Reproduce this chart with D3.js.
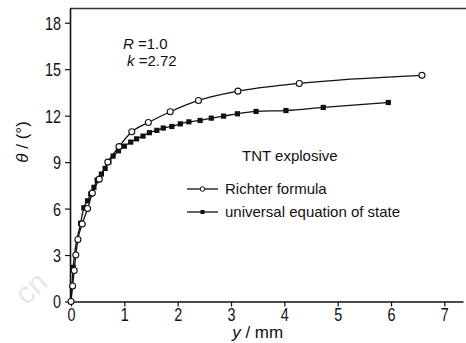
<!DOCTYPE html>
<html>
<head>
<meta charset="utf-8">
<script src="https://cdn.jsdelivr.net/npm/d3@7"></script>
<style>
  body { margin: 0; background: #fff; }
  svg { display: block; }
</style>
</head>
<body>
<svg id="chart" width="466" height="343"></svg>
<script>
// y / mm  vs  theta / deg
const richterY = [0, 0.03, 0.06, 0.09, 0.13, 0.21, 0.31, 0.40, 0.53, 0.69, 0.90, 1.14, 1.45, 1.86, 2.39, 3.13, 4.28, 6.58];
const richterTheta = [0, 1.0, 2.0, 3.0, 4.0, 5.0, 6.0, 7.0, 7.9, 9.0, 10.0, 10.96, 11.56, 12.25, 12.98, 13.58, 14.08, 14.6];

const eosY = [0, 0.04, 0.18, 0.24, 0.31, 0.37, 0.43, 0.49, 0.57, 0.64, 0.71, 0.79, 0.89, 1.0, 1.12, 1.23, 1.35, 1.47, 1.61, 1.73, 1.89, 2.05, 2.21, 2.42, 2.63, 2.86, 3.12, 3.47, 4.03, 4.73, 5.95];
const eosTheta = [0, 2.2, 5.05, 6.05, 6.5, 6.94, 7.37, 7.84, 8.23, 8.59, 9.02, 9.39, 9.73, 10.03, 10.29, 10.5, 10.68, 10.9, 11.05, 11.2, 11.3, 11.47, 11.6, 11.69, 11.84, 11.97, 12.12, 12.27, 12.33, 12.53, 12.85];

const xTicks = [0, 1, 2, 3, 4, 5, 6, 7];
const yTicks = [0, 3, 6, 9, 12, 15, 18];
const legendLabels = ["Richter formula", "universal equation of state"];

const font = '"Liberation Sans", Arial, sans-serif';

const svg = d3.select("#chart");

const xScale = d3.scaleLinear().domain([0, 7.35]).range([71, 463]);
const yScale = d3.scaleLinear().domain([0, 18.95]).range([301.5, 8]);

const richter = richterY.map((v, i) => ({ x: v, t: richterTheta[i] }));
const eos = eosY.map((v, i) => ({ x: v, t: eosTheta[i] }));

// faint watermark
svg.append("text")
  .attr("transform", "translate(26,306) rotate(-42)")
  .attr("font-family", font)
  .attr("font-size", 30)
  .attr("fill", "#e8e8e8")
  .text("cn");

// top frame line
svg.append("line")
  .attr("x1", xScale(0) - 1).attr("x2", 466)
  .attr("y1", yScale(18.95) + 0.5).attr("y2", yScale(18.95) + 0.5)
  .attr("stroke", "#333").attr("stroke-width", 1.4);

const xAxis = svg.append("g")
  .attr("transform", `translate(0, ${yScale(0)})`)
  .call(d3.axisBottom(xScale).tickValues(xTicks).tickSize(5).tickSizeOuter(0).tickPadding(2));

const yAxis = svg.append("g")
  .attr("transform", `translate(${xScale(0) - 1}, 0)`)
  .call(d3.axisLeft(yScale).tickValues(yTicks).tickSize(5).tickSizeOuter(0).tickPadding(4));

[xAxis, yAxis].forEach(a => {
  a.select(".domain").attr("stroke", "#111").attr("stroke-width", 1.6);
  a.selectAll(".tick line").attr("stroke", "#111").attr("stroke-width", 1.2);
  a.selectAll(".tick text")
    .attr("fill", "#111")
    .attr("font-family", font)
    .attr("font-size", 18);
});
// narrow the tick digits like the original condensed face
xAxis.selectAll(".tick text").attr("transform", "scale(0.8,1)");
yAxis.selectAll(".tick text")
  .attr("dy", "0.36em")
  .attr("x", -9 / 0.8)
  .attr("transform", "scale(0.8,1)");

// axis titles
const xt = svg.append("text")
  .attr("x", (xScale(0) + xScale(7)) / 2)
  .attr("y", 338)
  .attr("text-anchor", "middle")
  .attr("font-family", font)
  .attr("font-size", 17)
  .attr("fill", "#111");
xt.append("tspan").attr("font-style", "italic").text("y");
xt.append("tspan").text(" / mm");

const yt = svg.append("text")
  .attr("transform", `translate(28, ${yScale(10.3)}) rotate(-90)`)
  .attr("text-anchor", "middle")
  .attr("font-family", font)
  .attr("font-size", 17)
  .attr("fill", "#111");
yt.append("tspan").attr("font-style", "italic").text("θ");
yt.append("tspan").text(" / (°)");

// curves
const line = d3.line()
  .x(d => xScale(d.x))
  .y(d => yScale(d.t))
  .curve(d3.curveMonotoneX);

svg.append("path").datum(richter)
  .attr("d", line).attr("fill", "none").attr("stroke", "#111").attr("stroke-width", 1.3);
svg.append("path").datum(eos)
  .attr("d", line).attr("fill", "none").attr("stroke", "#111").attr("stroke-width", 1.3);

svg.append("g").selectAll("rect").data(eos).join("rect")
  .attr("x", d => xScale(d.x) - 2.6)
  .attr("y", d => yScale(d.t) - 2.6)
  .attr("width", 5.2).attr("height", 5.2)
  .attr("fill", "#111");

svg.append("g").selectAll("circle").data(richter).join("circle")
  .attr("cx", d => xScale(d.x))
  .attr("cy", d => yScale(d.t))
  .attr("r", 3)
  .attr("fill", "#fff")
  .attr("stroke", "#111")
  .attr("stroke-width", 1.1);

// parameters
const p1 = svg.append("text").attr("x", 123).attr("y", 49)
  .attr("font-family", font).attr("font-size", 15).attr("fill", "#111");
p1.append("tspan").attr("font-style", "italic").text("R");
p1.append("tspan").text(" =1.0");
const p2 = svg.append("text").attr("x", 127).attr("y", 66)
  .attr("font-family", font).attr("font-size", 15).attr("fill", "#111");
p2.append("tspan").attr("font-style", "italic").text("k");
p2.append("tspan").text(" =2.72");

// legend
svg.append("text").attr("x", 242).attr("y", 161)
  .attr("font-family", font).attr("font-size", 15).attr("fill", "#111")
  .text("TNT explosive");

const lg = svg.append("g").attr("transform", "translate(187, 189)");
legendLabels.forEach((label, i) => {
  const row = lg.append("g").attr("transform", `translate(0, ${i * 23})`);
  row.append("line").attr("x1", 0).attr("x2", 31).attr("y1", 0).attr("y2", 0)
    .attr("stroke", "#111").attr("stroke-width", 1.3);
  if (i === 0) {
    row.append("circle").attr("cx", 15.5).attr("cy", 0).attr("r", 2.3)
      .attr("fill", "#fff").attr("stroke", "#111").attr("stroke-width", 1);
  } else {
    row.append("rect").attr("x", 13.5).attr("y", -2).attr("width", 4).attr("height", 4)
      .attr("fill", "#111");
  }
  row.append("text").attr("x", 38).attr("y", 5)
    .attr("font-family", font).attr("font-size", 15).attr("fill", "#111")
    .text(label);
});
</script>
</body>
</html>
